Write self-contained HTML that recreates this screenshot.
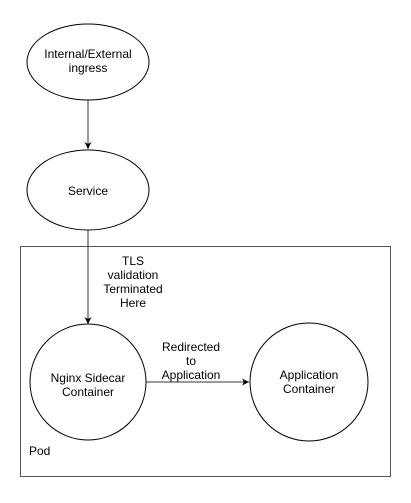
<!DOCTYPE html>
<html><head><style>html,body{margin:0;padding:0;background:#fff;}</style></head>
<body>
<svg width="411" height="498" xmlns="http://www.w3.org/2000/svg" font-family="Liberation Sans, Arial, sans-serif" font-size="12" fill="#000">
<defs><marker id="a" markerWidth="8" markerHeight="8" refX="7" refY="4" orient="auto" markerUnits="userSpaceOnUse"><path d="M0,0.5 L7,4 L0,7.5 L2,4 Z" fill="#000"/></marker></defs>
<rect x="20.5" y="246.5" width="370" height="230" fill="none" stroke="#555" stroke-width="1"/>
<ellipse cx="88" cy="62" rx="61" ry="38" fill="#fff" stroke="#000"/>
<ellipse cx="88" cy="190" rx="61" ry="40" fill="#fff" stroke="#000"/>
<circle cx="88" cy="382" r="58" fill="#fff" stroke="#000"/>
<circle cx="309" cy="382" r="59" fill="#fff" stroke="#000"/>
<line x1="88" y1="100" x2="88" y2="149" stroke="#333" marker-end="url(#a)"/>
<line x1="88" y1="230" x2="88" y2="324" stroke="#333" marker-end="url(#a)"/>
<line x1="146" y1="382" x2="249" y2="382" stroke="#333" marker-end="url(#a)"/>
<g text-anchor="middle">
<text x="88" y="58">Internal/External</text>
<text x="88" y="72">ingress</text>
<text x="88" y="195">Service</text>
<text x="133" y="265">TLS</text>
<text x="133" y="279">validation</text>
<text x="133" y="293">Terminated</text>
<text x="133" y="307">Here</text>
<text x="191" y="351">Redirected</text>
<text x="191" y="365">to</text>
<text x="191" y="379">Application</text>
<text x="88" y="382">Nginx Sidecar</text>
<text x="88" y="396">Container</text>
<text x="309" y="379">Application</text>
<text x="309" y="393">Container</text>
</g>
<text x="29" y="455">Pod</text>
</svg>
</body></html>
